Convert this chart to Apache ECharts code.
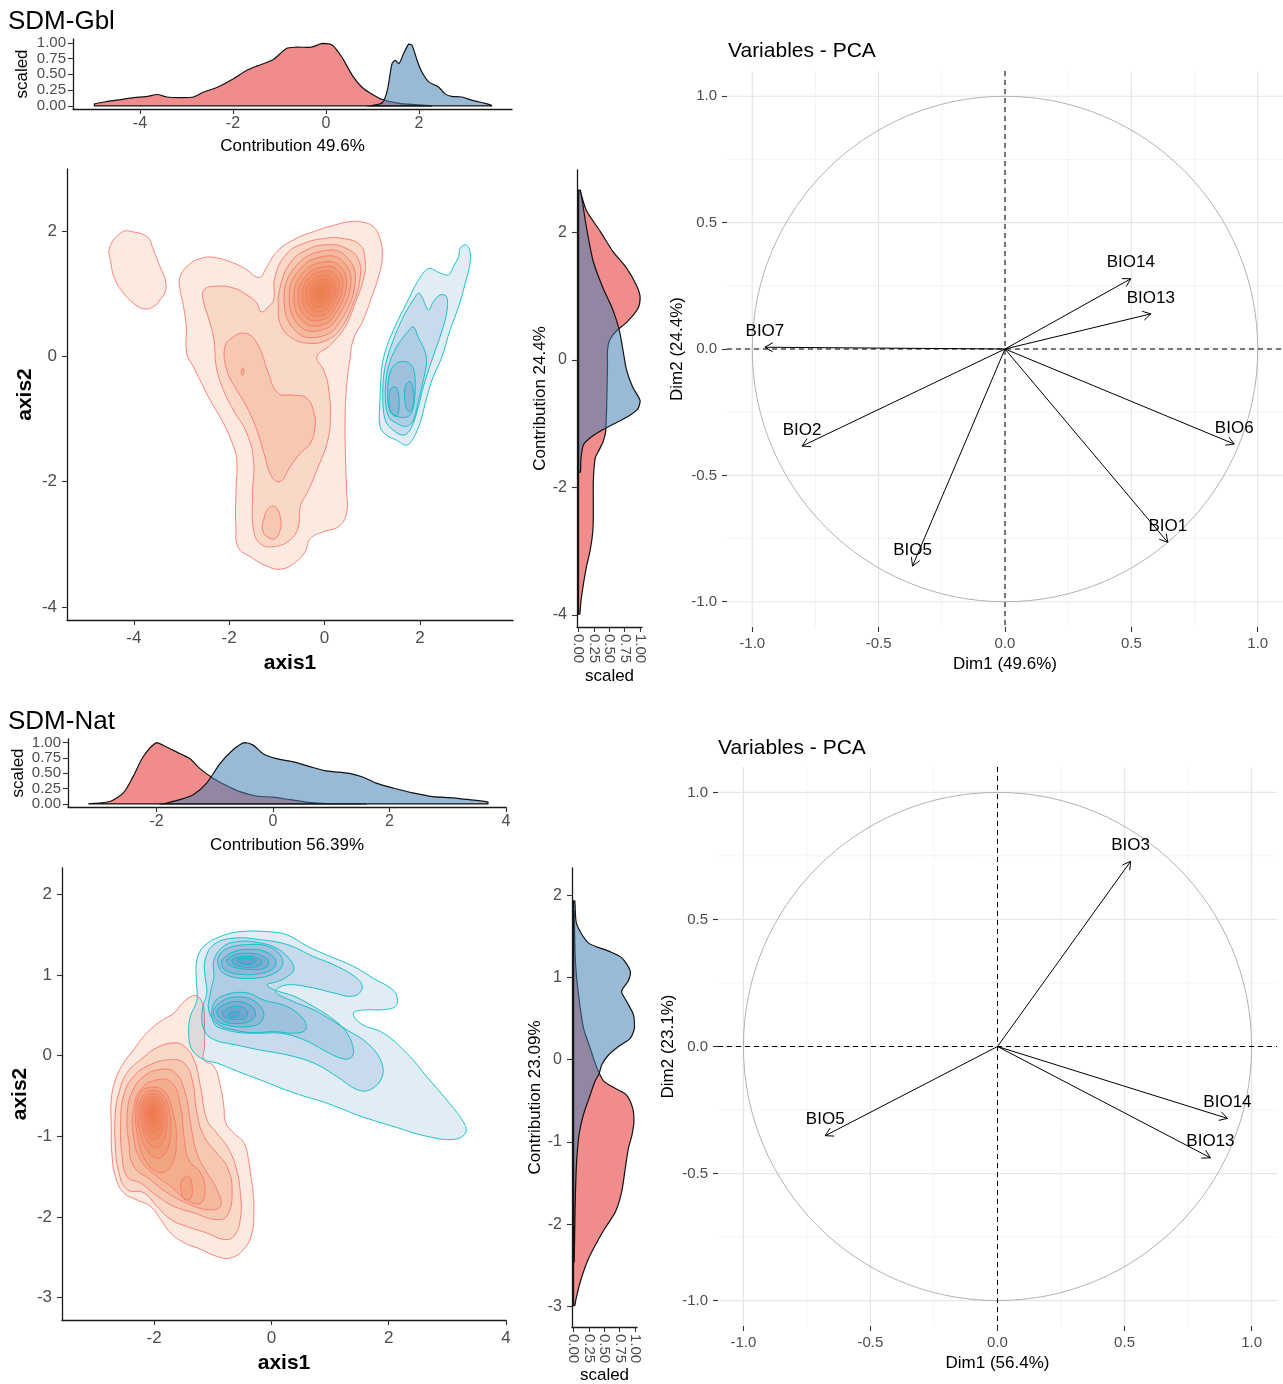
<!DOCTYPE html>
<html>
<head>
<meta charset="utf-8">
<script src="https://cdn.jsdelivr.net/npm/echarts@6/dist/echarts.min.js"></script>
<style>html,body{margin:0;padding:0;background:#fff}#c{width:1283px;height:1384px}</style>
</head>
<body>
<div id="c"></div>
<script>
// ===================== DATA =====================
// Tick values
const scaledTicks = [0, 0.25, 0.5, 0.75, 1];
const gblXTicks = [-4, -2, 0, 2];
const gblYTicks = [-4, -2, 0, 2];
const natXTicks = [-2, 0, 2, 4];
const natYTicks = [-3, -2, -1, 0, 1, 2];
const pcaTicks = [-1, -0.5, 0, 0.5, 1];
const pcaMinorTicks = [-0.75, -0.25, 0.25, 0.75];

// SDM-Gbl marginal densities (scaled)
const gblTopRed = [[-4.98,0.03],[-4.7,0.07],[-4.41,0.10],[-4.13,0.13],[-3.84,0.15],[-3.63,0.18],[-3.42,0.14],[-3.13,0.13],[-2.85,0.14],[-2.63,0.22],[-2.35,0.29],[-1.99,0.43],[-1.71,0.56],[-1.49,0.63],[-1.14,0.73],[-0.85,0.91],[-0.64,0.93],[-0.32,0.93],[-0.07,0.99],[0.14,0.96],[0.36,0.75],[0.57,0.48],[0.78,0.29],[1.0,0.18],[1.21,0.10],[1.57,0.04],[2.28,0.0]];
const gblTopBlue = [[0.96,0.0],[1.21,0.05],[1.32,0.25],[1.42,0.67],[1.49,0.72],[1.57,0.67],[1.67,0.83],[1.78,0.98],[1.85,0.96],[1.96,0.72],[2.06,0.54],[2.21,0.38],[2.42,0.30],[2.56,0.19],[2.70,0.15],[2.92,0.14],[3.13,0.09],[3.42,0.04],[3.56,0.01]];
const gblSideRed = [[0.02,2.66],[0.13,2.34],[0.35,2.02],[0.56,1.70],[0.78,1.44],[0.94,1.17],[1.0,0.98],[0.96,0.80],[0.78,0.59],[0.61,0.45],[0.51,0.32],[0.47,0.16],[0.47,-0.05],[0.46,-0.59],[0.44,-1.12],[0.40,-1.28],[0.32,-1.44],[0.27,-1.54],[0.24,-1.91],[0.24,-2.45],[0.23,-2.71],[0.19,-2.98],[0.13,-3.24],[0.08,-3.51],[0.04,-3.78],[0.02,-3.99]];
const gblSideBlue = [[0.03,2.66],[0.13,2.07],[0.24,1.54],[0.40,1.12],[0.53,0.85],[0.61,0.64],[0.67,0.43],[0.72,0.16],[0.78,-0.16],[0.88,-0.43],[1.0,-0.64],[0.96,-0.77],[0.78,-0.90],[0.56,-1.01],[0.35,-1.12],[0.19,-1.22],[0.08,-1.33],[0.04,-1.54],[0.03,-1.76]];

// SDM-Gbl 2D density contours (axis1, axis2)
const gblRedContours = [
  [[-4.50,1.75],[-4.25,1.98],[-4.04,1.99],[-3.71,1.90],[-3.59,1.70],[-3.45,1.43],[-3.34,1.22],[-3.34,1.03],[-3.45,0.90],[-3.59,0.79],[-3.80,0.76],[-4.01,0.85],[-4.22,1.01],[-4.39,1.22],[-4.48,1.49]],
  [[-3.03,1.27],[-2.85,1.46],[-2.61,1.56],[-2.33,1.58],[-1.91,1.49],[-1.63,1.38],[-1.37,1.26],[-1.21,1.43],[-1.00,1.67],[-0.65,1.86],[-0.23,1.99],[0.19,2.09],[0.53,2.15],[0.81,2.14],[1.02,2.07],[1.15,1.91],[1.21,1.59],[1.13,1.27],[0.99,0.95],[0.81,0.58],[0.60,0.26],[0.53,-0.06],[0.46,-0.49],[0.43,-1.02],[0.44,-1.66],[0.46,-2.13],[0.46,-2.51],[0.29,-2.72],[-0.02,-2.80],[-0.30,-2.91],[-0.41,-3.12],[-0.65,-3.31],[-0.93,-3.40],[-1.21,-3.35],[-1.56,-3.20],[-1.81,-3.05],[-1.86,-2.72],[-1.86,-2.19],[-1.84,-1.66],[-1.91,-1.44],[-2.12,-1.07],[-2.40,-0.70],[-2.61,-0.38],[-2.75,-0.17],[-2.89,0.05],[-2.90,0.47],[-2.97,0.85],[-3.03,1.06]],
  [[-2.53,1.06],[-2.26,1.12],[-1.91,1.09],[-1.63,0.98],[-1.42,0.85],[-1.33,0.71],[-1.18,0.79],[-1.07,0.90],[-1.04,1.27],[-0.79,1.64],[-0.44,1.80],[-0.02,1.88],[0.39,1.88],[0.74,1.78],[0.85,1.54],[0.81,1.22],[0.64,0.85],[0.43,0.47],[0.12,0.18],[-0.16,-0.01],[-0.02,-0.22],[0.08,-0.49],[0.12,-1.02],[0.05,-1.39],[-0.13,-1.76],[-0.34,-2.14],[-0.51,-2.40],[-0.55,-2.72],[-0.72,-2.93],[-1.07,-3.04],[-1.35,-2.99],[-1.49,-2.77],[-1.51,-2.19],[-1.49,-1.66],[-1.63,-1.23],[-1.91,-0.86],[-2.12,-0.54],[-2.27,-0.17],[-2.32,0.26],[-2.44,0.63],[-2.53,0.85]],
  [[-2.09,0.15],[-1.91,0.31],[-1.70,0.37],[-1.49,0.29],[-1.32,0.05],[-1.18,-0.27],[-0.97,-0.59],[-0.65,-0.62],[-0.37,-0.67],[-0.22,-0.91],[-0.20,-1.12],[-0.30,-1.39],[-0.51,-1.55],[-0.72,-1.76],[-0.93,-2.00],[-1.11,-1.92],[-1.27,-1.55],[-1.42,-1.18],[-1.63,-0.81],[-1.88,-0.49],[-2.05,-0.22]],
  [[-1.28,-2.62],[-1.18,-2.43],[-1.04,-2.40],[-0.93,-2.56],[-0.93,-2.77],[-1.04,-2.91],[-1.21,-2.88],[-1.30,-2.77]],
  [[-1.74,-0.22],[-1.71,-0.19],[-1.69,-0.24],[-1.71,-0.30],[-1.74,-0.29]],
  [[-0.97,0.74],[-0.93,1.11],[-0.72,1.49],[-0.37,1.70],[0.05,1.78],[0.46,1.72],[0.71,1.54],[0.74,1.22],[0.60,0.85],[0.36,0.47],[0.05,0.26],[-0.37,0.21],[-0.72,0.31],[-0.92,0.50]],
  [[-0.85,0.92],[-0.59,1.45],[0.03,1.69],[0.47,1.58],[0.64,1.19],[0.34,0.57],[-0.06,0.32],[-0.59,0.39]],
  [[-0.74,0.93],[-0.52,1.39],[0.02,1.60],[0.40,1.50],[0.55,1.16],[0.28,0.63],[-0.06,0.42],[-0.52,0.48]],
  [[-0.645,0.945],[-0.45,1.335],[0.005,1.51],[0.33,1.43],[0.46,1.14],[0.23,0.685],[-0.06,0.50],[-0.45,0.555]],
  [[-0.555,0.955],[-0.39,1.285],[0.0,1.43],[0.27,1.37],[0.38,1.12],[0.19,0.735],[-0.06,0.58],[-0.39,0.625]],
  [[-0.47,0.96],[-0.34,1.24],[-0.01,1.36],[0.22,1.31],[0.31,1.10],[0.15,0.78],[-0.06,0.65],[-0.34,0.69]],
  [[-0.39,0.97],[-0.28,1.195],[-0.02,1.295],[0.16,1.25],[0.24,1.08],[0.11,0.825],[-0.06,0.72],[-0.28,0.75]],
  [[-0.31,0.98],[-0.23,1.15],[-0.03,1.225],[0.11,1.19],[0.16,1.07],[0.07,0.87],[-0.06,0.79],[-0.23,0.81]],
  [[-0.23,0.99],[-0.17,1.105],[-0.04,1.16],[0.05,1.13],[0.09,1.05],[0.03,0.915],[-0.06,0.86],[-0.17,0.88]],
  [[-0.15,1.0],[-0.12,1.06],[-0.05,1.09],[0.0,1.075],[0.02,1.03],[-0.015,0.96],[-0.06,0.93],[-0.12,0.94]]
];
const gblBlueContours = [
  [[1.20,-0.16],[1.30,0.15],[1.51,0.53],[1.72,0.85],[1.97,1.22],[2.18,1.40],[2.42,1.33],[2.60,1.30],[2.70,1.43],[2.81,1.59],[2.84,1.72],[2.95,1.78],[3.04,1.70],[3.05,1.49],[2.95,1.17],[2.81,0.79],[2.63,0.42],[2.46,-0.01],[2.25,-0.38],[2.11,-0.75],[2.00,-1.07],[1.86,-1.31],[1.72,-1.42],[1.51,-1.34],[1.30,-1.26],[1.16,-1.12],[1.16,-0.70],[1.18,-0.38]],
  [[1.27,-0.16],[1.44,0.26],[1.65,0.63],[1.86,0.90],[1.97,1.01],[2.04,0.95],[2.18,0.74],[2.28,0.87],[2.42,0.98],[2.56,0.95],[2.56,0.69],[2.42,0.31],[2.25,-0.06],[2.07,-0.49],[1.93,-0.91],[1.79,-1.18],[1.65,-1.26],[1.44,-1.18],[1.27,-1.02],[1.22,-0.59]],
  [[1.34,-0.16],[1.51,0.15],[1.72,0.37],[1.86,0.47],[1.97,0.29],[2.07,0.15],[2.14,-0.06],[2.07,-0.38],[1.97,-0.70],[1.86,-1.02],[1.72,-1.12],[1.51,-1.07],[1.34,-0.96],[1.27,-0.59]],
  [[1.37,-0.27],[1.51,-0.11],[1.72,-0.09],[1.86,-0.19],[1.90,-0.49],[1.86,-0.80],[1.76,-0.96],[1.51,-0.96],[1.37,-0.86],[1.32,-0.59]],
  [[1.37,-0.54],[1.48,-0.49],[1.55,-0.59],[1.55,-0.91],[1.48,-0.96],[1.37,-0.86]],
  [[1.69,-0.49],[1.79,-0.40],[1.86,-0.54],[1.86,-0.80],[1.76,-0.88],[1.69,-0.75]]
];

// SDM-Nat marginal densities (scaled)
const natTopRed = [[-3.17,0.0],[-2.80,0.04],[-2.57,0.18],[-2.40,0.45],[-2.23,0.77],[-2.0,1.0],[-1.83,0.93],[-1.66,0.85],[-1.43,0.74],[-1.26,0.58],[-1.03,0.42],[-0.80,0.30],[-0.57,0.20],[-0.29,0.13],[0.0,0.11],[0.29,0.07],[0.57,0.03],[0.91,0.005],[1.6,0.0]];
const natTopBlue = [[-1.89,0.0],[-1.6,0.07],[-1.37,0.15],[-1.14,0.34],[-0.91,0.66],[-0.69,0.88],[-0.49,1.0],[-0.34,0.96],[-0.17,0.82],[0.06,0.74],[0.34,0.69],[0.63,0.61],[0.91,0.54],[1.31,0.50],[1.54,0.44],[1.77,0.34],[2.06,0.26],[2.40,0.18],[2.74,0.12],[3.09,0.10],[3.37,0.07],[3.69,0.03]];
const natSideRed = [[0.01,1.81],[0.03,1.20],[0.08,0.79],[0.16,0.39],[0.27,0.14],[0.38,-0.10],[0.49,-0.26],[0.68,-0.35],[0.86,-0.43],[0.96,-0.59],[0.98,-0.75],[0.95,-0.91],[0.89,-1.08],[0.84,-1.32],[0.78,-1.61],[0.68,-1.85],[0.51,-2.05],[0.35,-2.26],[0.22,-2.46],[0.11,-2.70],[0.04,-2.91],[0.02,-2.99]];
const natSideBlue = [[0.02,1.93],[0.05,1.65],[0.24,1.42],[0.57,1.32],[0.78,1.24],[0.92,1.08],[0.89,0.96],[0.78,0.83],[0.86,0.71],[0.97,0.55],[0.99,0.39],[0.92,0.26],[0.73,0.16],[0.57,0.06],[0.46,-0.06],[0.41,-0.18],[0.35,-0.26],[0.27,-0.43],[0.16,-0.67],[0.09,-0.91],[0.05,-1.24],[0.03,-1.65],[0.02,-2.05],[0.01,-2.46]];

// SDM-Nat 2D density contours
const natRedContours = [
  [[-1.35,0.74],[-1.24,0.73],[-1.16,0.61],[-1.14,0.36],[-1.14,0.12],[-1.15,-0.05],[-0.98,-0.13],[-0.87,-0.38],[-0.81,-0.63],[-0.78,-0.83],[-0.64,-0.96],[-0.47,-1.08],[-0.39,-1.29],[-0.35,-1.50],[-0.31,-1.70],[-0.30,-1.95],[-0.33,-2.20],[-0.47,-2.40],[-0.70,-2.51],[-0.93,-2.49],[-1.21,-2.40],[-1.49,-2.32],[-1.72,-2.20],[-1.89,-2.03],[-2.06,-1.87],[-2.29,-1.79],[-2.52,-1.70],[-2.66,-1.50],[-2.72,-1.21],[-2.73,-0.88],[-2.73,-0.55],[-2.66,-0.30],[-2.52,-0.09],[-2.35,0.07],[-2.18,0.24],[-2.01,0.36],[-1.84,0.45],[-1.66,0.53],[-1.52,0.65]],
  [[-1.66,0.16],[-1.49,0.12],[-1.32,-0.05],[-1.21,-0.38],[-1.10,-0.79],[-0.93,-0.96],[-0.76,-1.12],[-0.61,-1.37],[-0.53,-1.70],[-0.53,-2.03],[-0.64,-2.24],[-0.81,-2.28],[-1.10,-2.20],[-1.44,-2.12],[-1.72,-2.03],[-1.95,-1.87],[-2.18,-1.70],[-2.46,-1.66],[-2.60,-1.45],[-2.66,-1.12],[-2.66,-0.71],[-2.60,-0.46],[-2.46,-0.21],[-2.23,-0.05],[-1.95,0.10]],
  [[-1.72,-0.05],[-1.49,-0.09],[-1.35,-0.30],[-1.27,-0.71],[-1.15,-1.00],[-0.93,-1.21],[-0.76,-1.37],[-0.67,-1.66],[-0.76,-1.99],[-0.98,-2.03],[-1.32,-1.95],[-1.66,-1.87],[-1.95,-1.74],[-2.23,-1.58],[-2.46,-1.50],[-2.55,-1.21],[-2.57,-0.83],[-2.52,-0.50],[-2.35,-0.26],[-2.06,-0.11]],
  [[-1.89,-0.17],[-1.64,-0.21],[-1.47,-0.46],[-1.38,-0.83],[-1.27,-1.21],[-1.10,-1.45],[-0.93,-1.66],[-0.87,-1.87],[-1.10,-1.91],[-1.44,-1.83],[-1.78,-1.70],[-2.06,-1.54],[-2.35,-1.37],[-2.43,-1.08],[-2.46,-0.75],[-2.38,-0.46],[-2.18,-0.26]],
  [[-1.95,-0.30],[-1.69,-0.34],[-1.55,-0.63],[-1.49,-1.00],[-1.41,-1.29],[-1.21,-1.45],[-1.13,-1.66],[-1.21,-1.83],[-1.44,-1.79],[-1.72,-1.62],[-1.95,-1.50],[-2.23,-1.29],[-2.35,-1.00],[-2.35,-0.67],[-2.23,-0.42]],
  [[-1.52,-1.54],[-1.41,-1.50],[-1.35,-1.62],[-1.37,-1.76],[-1.47,-1.79],[-1.54,-1.68]],
  [[-2.31,-0.69],[-2.24,-0.47],[-2.05,-0.39],[-1.82,-0.45],[-1.68,-0.70],[-1.62,-1.05],[-1.70,-1.35],[-1.90,-1.45],[-2.15,-1.30],[-2.28,-1.00]],
  [[-2.27,-0.69],[-2.20,-0.51],[-2.04,-0.43],[-1.85,-0.49],[-1.74,-0.70],[-1.72,-0.98],[-1.80,-1.20],[-1.96,-1.27],[-2.14,-1.15],[-2.24,-0.95]],
  [[-2.23,-0.69],[-2.17,-0.54],[-2.04,-0.47],[-1.88,-0.52],[-1.79,-0.70],[-1.79,-0.92],[-1.86,-1.08],[-1.98,-1.14],[-2.12,-1.05],[-2.20,-0.88]],
  [[-2.20,-0.69],[-2.14,-0.56],[-2.03,-0.51],[-1.91,-0.55],[-1.84,-0.70],[-1.84,-0.87],[-1.90,-0.99],[-2.00,-1.04],[-2.11,-0.97],[-2.17,-0.83]],
  [[-2.16,-0.69],[-2.11,-0.59],[-2.03,-0.55],[-1.94,-0.58],[-1.88,-0.70],[-1.88,-0.83],[-1.93,-0.93],[-2.01,-0.96],[-2.09,-0.91],[-2.14,-0.80]],
  [[-2.13,-0.69],[-2.09,-0.61],[-2.03,-0.59],[-1.97,-0.61],[-1.92,-0.70],[-1.93,-0.79],[-1.97,-0.86],[-2.02,-0.88],[-2.08,-0.85],[-2.11,-0.77]],
  [[-2.10,-0.69],[-2.07,-0.64],[-2.03,-0.62],[-1.99,-0.64],[-1.96,-0.70],[-1.97,-0.76],[-2.00,-0.80],[-2.03,-0.81],[-2.07,-0.79],[-2.09,-0.74]],
  [[-2.07,-0.69],[-2.05,-0.66],[-2.03,-0.65],[-2.01,-0.66],[-2.0,-0.70],[-2.0,-0.73],[-2.02,-0.75],[-2.04,-0.75],[-2.06,-0.73]]
];
const natBlueContours = [
  [[-1.27,1.19],[-1.15,1.36],[-0.87,1.48],[-0.53,1.54],[-0.07,1.54],[0.27,1.50],[0.61,1.36],[1.01,1.23],[1.40,1.11],[1.74,0.96],[2.03,0.84],[2.14,0.74],[2.11,0.61],[1.86,0.57],[1.63,0.57],[1.40,0.53],[1.52,0.40],[1.91,0.28],[2.31,0.03],[2.65,-0.26],[2.99,-0.55],[3.28,-0.83],[3.31,-0.96],[3.11,-1.04],[2.65,-1.00],[2.09,-0.88],[1.52,-0.75],[0.95,-0.59],[0.38,-0.46],[-0.19,-0.30],[-0.59,-0.19],[-0.93,-0.09],[-1.15,-0.05],[-1.35,0.07],[-1.41,0.28],[-1.38,0.49],[-1.27,0.69],[-1.28,0.94]],
  [[-1.13,1.19],[-0.98,1.38],[-0.64,1.46],[-0.19,1.44],[0.27,1.38],[0.72,1.23],[1.12,1.11],[1.46,0.96],[1.55,0.84],[1.40,0.74],[1.06,0.78],[0.72,0.84],[0.27,0.88],[0.07,0.80],[0.32,0.69],[0.72,0.57],[1.01,0.45],[1.29,0.32],[1.63,0.16],[1.86,-0.05],[1.89,-0.26],[1.69,-0.42],[1.46,-0.42],[1.12,-0.26],[0.72,-0.09],[0.27,0.01],[-0.19,0.07],[-0.64,0.14],[-0.98,0.20],[-1.15,0.32],[-1.18,0.57],[-1.10,0.78],[-1.13,0.98]],
  [[-0.98,1.19],[-0.81,1.36],[-0.53,1.42],[-0.19,1.40],[0.10,1.33],[0.32,1.19],[0.38,1.07],[0.27,0.98],[0.10,0.92],[-0.07,0.88],[0.04,0.82],[0.38,0.74],[0.72,0.61],[1.06,0.45],[1.29,0.28],[1.40,0.07],[1.35,-0.03],[1.18,-0.03],[0.89,0.07],[0.55,0.20],[0.15,0.28],[-0.24,0.28],[-0.64,0.32],[-0.93,0.40],[-1.07,0.57],[-1.04,0.78],[-0.98,0.98]],
  [[-0.90,1.23],[-0.76,1.33],[-0.41,1.38],[-0.07,1.36],[0.15,1.25],[0.18,1.11],[-0.02,1.00],[-0.41,0.96],[-0.76,1.00],[-0.90,1.11]],
  [[-0.98,0.65],[-0.76,0.76],[-0.41,0.78],[-0.13,0.69],[0.27,0.61],[0.55,0.45],[0.58,0.32],[0.38,0.28],[0.04,0.30],[-0.41,0.28],[-0.76,0.32],[-0.98,0.40]],
  [[-0.84,1.19],[-0.64,1.29],[-0.36,1.32],[-0.10,1.29],[0.07,1.19],[0.04,1.09],[-0.19,1.02],[-0.53,1.01],[-0.76,1.05],[-0.84,1.11]],
  [[-0.98,0.57],[-0.81,0.69],[-0.53,0.73],[-0.27,0.67],[-0.13,0.53],[-0.19,0.41],[-0.41,0.36],[-0.76,0.38],[-0.95,0.45]],
  [[-0.76,1.19],[-0.59,1.26],[-0.33,1.27],[-0.13,1.23],[-0.05,1.17],[-0.10,1.09],[-0.33,1.07],[-0.59,1.09],[-0.73,1.13]],
  [[-0.93,0.55],[-0.76,0.65],[-0.53,0.67],[-0.33,0.61],[-0.27,0.51],[-0.36,0.43],[-0.59,0.40],[-0.81,0.43]],
  [[-0.67,1.19],[-0.50,1.23],[-0.27,1.22],[-0.16,1.17],[-0.24,1.11],[-0.47,1.10],[-0.64,1.14]],
  [[-0.84,0.53],[-0.70,0.60],[-0.53,0.61],[-0.41,0.55],[-0.44,0.47],[-0.61,0.45],[-0.78,0.47]],
  [[-0.59,1.19],[-0.41,1.21],[-0.27,1.18],[-0.33,1.14],[-0.50,1.14]],
  [[-0.73,0.52],[-0.61,0.55],[-0.53,0.52],[-0.59,0.48],[-0.70,0.48]]
];

// PCA variable coordinates
const pca1Vars = ['BIO7', 'BIO2', 'BIO5', 'BIO14', 'BIO13', 'BIO6', 'BIO1'];
const pca1Dim1 = [-0.95, -0.803, -0.366, 0.498, 0.577, 0.907, 0.644];
const pca1Dim2 = [0.007, -0.384, -0.859, 0.278, 0.139, -0.376, -0.765];
const pca2Vars = ['BIO3', 'BIO14', 'BIO13', 'BIO5'];
const pca2Dim1 = [0.524, 0.905, 0.838, -0.678];
const pca2Dim2 = [0.729, -0.283, -0.438, -0.351];

// ===================== CHART =====================
const FONT = '"Liberation Sans", Arial, sans-serif';
const RED_FILL = 'rgba(228,26,28,0.5)';
const BLUE_FILL = 'rgba(70,130,180,0.55)';
const RED_LINE = '#F8766D';
const BLUE_LINE = '#00BFC4';
const RED_CFILL = 'rgba(236,105,45,0.14)';
const BLUE_CFILL = 'rgba(45,120,185,0.14)';

function axis(o) {
  const showLine = o.line !== false;
  return {
    type: 'value', gridIndex: o.g, min: o.min, max: o.max,
    axisLine: { show: showLine, onZero: false, lineStyle: { color: '#1a1a1a', width: 1.3 } },
    axisTick: { show: true, length: 5, interval: 0, customValues: o.ticks, lineStyle: { color: '#333', width: 1.1 } },
    axisLabel: { customValues: o.ticks, formatter: o.fmt, color: '#4d4d4d', fontSize: o.fs || 17,
      fontFamily: FONT, margin: o.margin || 9, rotate: o.rotate || 0, interval: 0,
      showMinLabel: true, showMaxLabel: true, hideOverlap: false },
    splitLine: { show: false },
    name: o.name, nameLocation: 'middle', nameGap: o.gap,
    nameTextStyle: { color: '#000', fontSize: o.nfs || 17, fontFamily: FONT, fontWeight: o.bold ? 'bold' : 'normal' }
  };
}
const f0 = v => String(v);
const f1 = v => v.toFixed(1);
const f2 = v => v.toFixed(2);

function polySeries(g, polys, fill, stroke, lw, smooth) {
  return {
    type: 'custom', xAxisIndex: g, yAxisIndex: g, clip: true, silent: true,
    data: polys.map(p => [p[0][0], p[0][1]]),
    renderItem: function (params, api) {
      const poly = polys[params.dataIndex];
      if (!poly) return null;
      const pts = poly.map(p => api.coord(p));
      return { type: 'polygon', shape: { points: pts, smooth: smooth }, style: { fill: fill, stroke: stroke, lineWidth: lw } };
    }
  };
}
function densitySeries(g, curve, fill, vertical) {
  return {
    type: 'custom', xAxisIndex: g, yAxisIndex: g, clip: true, silent: true,
    data: [[curve[0][0], curve[0][1]]],
    renderItem: function (params, api) {
      const first = curve[0], last = curve[curve.length - 1];
      const pts = curve.map(p => api.coord(p));
      if (vertical) { pts.push(api.coord([0, last[1]])); pts.unshift(api.coord([0, first[1]])); }
      else { pts.push(api.coord([last[0], 0])); pts.unshift(api.coord([first[0], 0])); }
      let mn = [Infinity, Infinity], mx = [-Infinity, -Infinity];
      pts.forEach(p => { mn = [Math.min(mn[0], p[0]), Math.min(mn[1], p[1])]; mx = [Math.max(mx[0], p[0]), Math.max(mx[1], p[1])]; });
      return { type: 'polygon', shape: { points: pts, smooth: 0.25, smoothConstraint: [mn, mx] },
        style: { fill: fill, stroke: '#111', lineWidth: 1.2 } };
    }
  };
}
function pcaFrame(g) {
  return {
    type: 'custom', xAxisIndex: g, yAxisIndex: g, silent: true, z: 1,
    data: [[0, 0]],
    renderItem: function (params, api) {
      const cs = params.coordSys; const ch = [];
      const addGrid = (vals, color, w) => vals.forEach(v => {
        const px = api.coord([v, 0])[0], py = api.coord([0, v])[1];
        ch.push({ type: 'line', shape: { x1: px, y1: cs.y, x2: px, y2: cs.y + cs.height }, style: { stroke: color, lineWidth: w } });
        ch.push({ type: 'line', shape: { x1: cs.x, y1: py, x2: cs.x + cs.width, y2: py }, style: { stroke: color, lineWidth: w } });
      });
      addGrid(pcaMinorTicks, '#F1F1F1', 0.8);
      addGrid(pcaTicks, '#E6E6E6', 1.2);
      const o = api.coord([0, 0]);
      const r = api.size([1, 1]);
      ch.push({ type: 'ellipse', shape: { cx: o[0], cy: o[1], rx: r[0], ry: r[1] }, style: { fill: 'none', stroke: '#B3B3B3', lineWidth: 1 } });
      ch.push({ type: 'line', shape: { x1: o[0], y1: cs.y, x2: o[0], y2: cs.y + cs.height }, style: { stroke: '#000', lineWidth: 1, lineDash: [5, 4] } });
      ch.push({ type: 'line', shape: { x1: cs.x, y1: o[1], x2: cs.x + cs.width, y2: o[1] }, style: { stroke: '#000', lineWidth: 1, lineDash: [5, 4] } });
      return { type: 'group', children: ch };
    }
  };
}
function arrowSeries(g, names, xs, ys) {
  return {
    type: 'custom', xAxisIndex: g, yAxisIndex: g, silent: true, z: 3,
    data: names.map((n, i) => [xs[i], ys[i]]),
    renderItem: function (params, api) {
      const o = api.coord([0, 0]);
      const t = api.coord([api.value(0), api.value(1)]);
      const dx = t[0] - o[0], dy = t[1] - o[1], L = Math.hypot(dx, dy);
      const bx = -dx / L, by = -dy / L, hl = 9, a = Math.PI / 6;
      const h1 = [t[0] + hl * (bx * Math.cos(a) - by * Math.sin(a)), t[1] + hl * (bx * Math.sin(a) + by * Math.cos(a))];
      const h2 = [t[0] + hl * (bx * Math.cos(-a) - by * Math.sin(-a)), t[1] + hl * (bx * Math.sin(-a) + by * Math.cos(-a))];
      return { type: 'group', children: [
        { type: 'line', shape: { x1: o[0], y1: o[1], x2: t[0], y2: t[1] }, style: { stroke: '#000', lineWidth: 1 } },
        { type: 'polyline', shape: { points: [h1, t, h2] }, style: { stroke: '#000', lineWidth: 1, fill: 'none' } },
        { type: 'text', x: t[0], y: t[1] - 16, style: { text: names[params.dataIndex], fill: '#000', fontSize: 17,
          fontFamily: FONT, align: 'center', verticalAlign: 'middle' } }
      ] };
    }
  };
}

const grids = [
  { left: 73, top: 39, width: 439, height: 70 },
  { left: 67, top: 169, width: 446, height: 451 },
  { left: 577, top: 170, width: 65, height: 457 },
  { left: 727, top: 71, width: 556, height: 556 },
  { left: 68, top: 739, width: 438, height: 68 },
  { left: 62, top: 868, width: 444, height: 452 },
  { left: 572, top: 868, width: 65, height: 459 },
  { left: 718, top: 767, width: 559, height: 559 }
].map(g => Object.assign({ outerBoundsMode: 'none', containLabel: false }, g));

const xAxes = [
  axis({ g: 0, min: -5.44, max: 4.0, ticks: gblXTicks, fmt: f0, fs: 16, margin: 7, name: 'Contribution 49.6%', gap: 29 }),
  axis({ g: 1, min: -5.4, max: 3.95, ticks: gblXTicks, fmt: f0, margin: 10, name: 'axis1', gap: 33, nfs: 21, bold: true }),
  axis({ g: 2, min: -0.025, max: 1.03, ticks: scaledTicks, fmt: f2, fs: 15, margin: 7, rotate: -90, name: 'scaled', gap: 41 }),
  axis({ g: 3, min: -1.1, max: 1.1, ticks: pcaTicks, fmt: f1, fs: 15, margin: 9, name: 'Dim1 (49.6%)', gap: 29, line: false }),
  axis({ g: 4, min: -3.52, max: 4.0, ticks: natXTicks, fmt: f0, fs: 16, margin: 7, name: 'Contribution 56.39%', gap: 30 }),
  axis({ g: 5, min: -3.57, max: 4.0, ticks: natXTicks, fmt: f0, margin: 10, name: 'axis1', gap: 33, nfs: 21, bold: true }),
  axis({ g: 6, min: -0.025, max: 1.03, ticks: scaledTicks, fmt: f2, fs: 15, margin: 7, rotate: -90, name: 'scaled', gap: 40 }),
  axis({ g: 7, min: -1.1, max: 1.1, ticks: pcaTicks, fmt: f1, fs: 15, margin: 9, name: 'Dim1 (56.4%)', gap: 29, line: false })
];
const yAxes = [
  axis({ g: 0, min: -0.05, max: 1.06, ticks: scaledTicks, fmt: f2, fs: 15, margin: 7, name: 'scaled', gap: 42 }),
  axis({ g: 1, min: -4.21, max: 2.99, ticks: gblYTicks, fmt: f0, margin: 10, name: 'axis2', gap: 31, nfs: 21, bold: true }),
  axis({ g: 2, min: -4.19, max: 2.98, ticks: gblYTicks, fmt: f0, fs: 16, margin: 10, name: 'Contribution 24.4%', gap: 27 }),
  axis({ g: 3, min: -1.1, max: 1.1, ticks: pcaTicks, fmt: f1, fs: 15, margin: 10, name: 'Dim2 (24.4%)', gap: 41, line: false }),
  axis({ g: 4, min: -0.05, max: 1.06, ticks: scaledTicks, fmt: f2, fs: 15, margin: 7, name: 'scaled', gap: 41 }),
  axis({ g: 5, min: -3.28, max: 2.33, ticks: natYTicks, fmt: f0, margin: 10, name: 'axis2', gap: 31, nfs: 21, bold: true }),
  axis({ g: 6, min: -3.25, max: 2.33, ticks: natYTicks, fmt: f0, fs: 16, margin: 10, name: 'Contribution 23.09%', gap: 28 }),
  axis({ g: 7, min: -1.1, max: 1.1, ticks: pcaTicks, fmt: f1, fs: 15, margin: 10, name: 'Dim2 (23.1%)', gap: 41, line: false })
];

const series = [
  densitySeries(0, gblTopRed, RED_FILL, false),
  densitySeries(0, gblTopBlue, BLUE_FILL, false),
  polySeries(1, gblRedContours, RED_CFILL, RED_LINE, 0.9, 0.45),
  polySeries(1, gblBlueContours, BLUE_CFILL, BLUE_LINE, 0.9, 0.35),
  densitySeries(2, gblSideRed, RED_FILL, true),
  densitySeries(2, gblSideBlue, BLUE_FILL, true),
  pcaFrame(3),
  arrowSeries(3, pca1Vars, pca1Dim1, pca1Dim2),
  densitySeries(4, natTopRed, RED_FILL, false),
  densitySeries(4, natTopBlue, BLUE_FILL, false),
  polySeries(5, natRedContours, RED_CFILL, RED_LINE, 0.9, 0.45),
  polySeries(5, natBlueContours, BLUE_CFILL, BLUE_LINE, 0.9, 0.4),
  densitySeries(6, natSideRed, RED_FILL, true),
  densitySeries(6, natSideBlue, BLUE_FILL, true),
  pcaFrame(7),
  arrowSeries(7, pca2Vars, pca2Dim1, pca2Dim2)
];

const chart = echarts.init(document.getElementById('c'), null, { renderer: 'canvas' });
chart.setOption({
  animation: false,
  backgroundColor: '#fff',
  textStyle: { fontFamily: FONT },
  graphic: [
    { type: 'text', left: 8, top: 9, style: { text: 'SDM-Gbl', fontSize: 26, fontFamily: FONT, fill: '#000' } },
    { type: 'text', left: 8, top: 709, style: { text: 'SDM-Nat', fontSize: 26, fontFamily: FONT, fill: '#000' } },
    { type: 'text', left: 728, top: 41, style: { text: 'Variables - PCA', fontSize: 21, fontFamily: FONT, fill: '#000' } },
    { type: 'text', left: 718, top: 738, style: { text: 'Variables - PCA', fontSize: 21, fontFamily: FONT, fill: '#000' } }
  ],
  grid: grids,
  xAxis: xAxes,
  yAxis: yAxes,
  series: series
});
</script>
</body>
</html>
